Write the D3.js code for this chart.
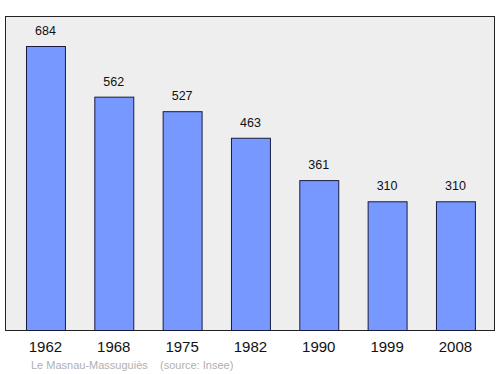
<!DOCTYPE html>
<html>
<head>
<meta charset="utf-8">
<script src="https://cdn.jsdelivr.net/npm/d3@7"></script>
<style>
  body { margin: 0; background: white; }
  text { font-family: "Liberation Sans", Arial, sans-serif; }
</style>
</head>
<body>
<div id="chart"></div>
<script>
// Data
const years = ["1962", "1968", "1975", "1982", "1990", "1999", "2008"];
const population = [684, 562, 527, 463, 361, 310, 310];
const sourceText = "Le Masnau-Massuguiès    (source: Insee)";

const width = 500;
const height = 374;

const svg = d3.select("#chart").append("svg")
  .attr("width", width)
  .attr("height", height);

// plot frame
const frame = { x0: 5, y0: 16, x1: 495, y1: 330 };

svg.append("rect")
  .attr("x", frame.x0 + 0.5)
  .attr("y", frame.y0 + 0.5)
  .attr("width", frame.x1 - frame.x0 - 1)
  .attr("height", frame.y1 - frame.y0)
  .attr("fill", "#eeeeee")
  .attr("stroke", "#222")
  .attr("stroke-width", 1);

const x = d3.scaleBand()
  .domain(years)
  .range([11.3, 489.6])
  .paddingInner(0.43)
  .paddingOuter(0.215);

const y = d3.scaleLinear()
  .domain([0, 684])
  .range([frame.y1, 46]);

const data = years.map((yr, i) => ({ year: yr, value: population[i] }));

svg.selectAll(".bar")
  .data(data)
  .enter().append("rect")
  .attr("class", "bar")
  .attr("x", d => x(d.year) + 0.5)
  .attr("y", d => y(d.value) + 0.5)
  .attr("width", x.bandwidth())
  .attr("height", d => frame.y1 - y(d.value))
  .attr("fill", "#7799ff")
  .attr("stroke", "#1a1a40")
  .attr("stroke-width", 1);

// value labels
svg.selectAll(".val")
  .data(data)
  .enter().append("text")
  .attr("class", "val")
  .attr("x", d => x(d.year) + x.bandwidth() / 2)
  .attr("y", d => y(d.value) - 11)
  .attr("text-anchor", "middle")
  .attr("font-size", "12.5px")
  .attr("fill", "#111")
  .text(d => d.value);

// x axis labels
svg.selectAll(".yr")
  .data(years)
  .enter().append("text")
  .attr("class", "yr")
  .attr("x", d => x(d) + x.bandwidth() / 2)
  .attr("y", 352)
  .attr("text-anchor", "middle")
  .attr("font-size", "15px")
  .attr("fill", "#111")
  .text(d => d);

svg.append("text")
  .attr("x", 31)
  .attr("y", 369)
  .attr("font-size", "11px")
  .attr("fill", "#b0b0b0")
  .attr("xml:space", "preserve")
  .style("white-space", "pre")
  .text(sourceText);
</script>
</body>
</html>
